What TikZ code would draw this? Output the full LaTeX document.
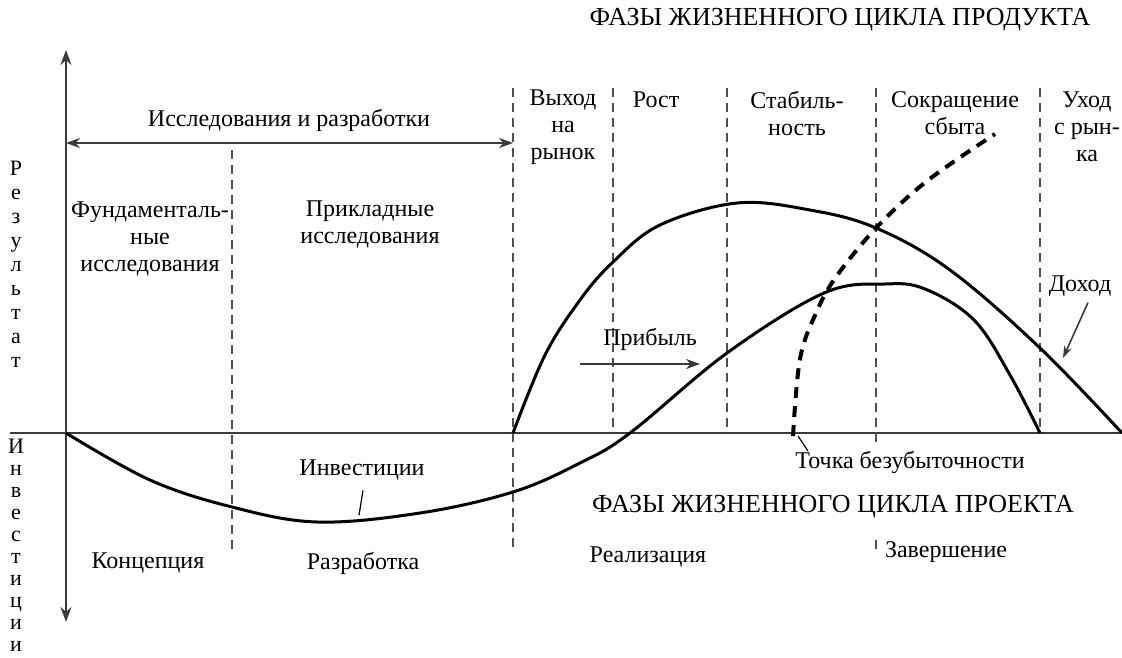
\documentclass[tikz,border=0pt]{standalone}
\usepackage{fontspec}
\setmainfont{Liberation Serif}
\usetikzlibrary{arrows.meta}
\definecolor{AxisGray}{HTML}{3A3A3A}
\definecolor{DashGray}{HTML}{505050}

\begin{document}
\begin{tikzpicture}[x=1pt,y=-1pt,
    lbl/.style={font=\fontsize{24}{27}\selectfont,align=center,inner sep=0pt},
    ttl/.style={font=\fontsize{26}{30}\selectfont,inner sep=0pt},
    vlbl/.style={font=\fontsize{22}{#1}\selectfont,align=center,inner sep=0pt},
    axisline/.style={AxisGray,line width=2pt},
    phaseline/.style={DashGray,line width=1.8pt,dash pattern=on 9pt off 6pt},
    curveline/.style={black,line width=3pt,line join=round},
    evenline/.style={black,line width=4pt,dash pattern=on 11pt off 8pt},
    tickline/.style={black,line width=1.2pt}]
  \useasboundingbox (0,0) rectangle (1122,657);
  % axes
  \coordinate (yTop) at (66,50);
  \coordinate (yBot) at (66,622);
  \coordinate (xLeft) at (10,433);
  \coordinate (xRight) at (1122,433);
  \draw[axisline] (xLeft) -- (xRight);
  \draw[axisline,{Stealth[length=15pt,width=11pt]}-{Stealth[length=15pt,width=11pt]}] (yTop) -- (yBot);
  \node[vlbl=24] (rezult) at (16,264) {Р\\е\\з\\у\\л\\ь\\т\\а\\т};
  \node[vlbl=22] (invest) at (16,545) {И\\н\\в\\е\\с\\т\\и\\ц\\и\\и};
  % phase borders
  \foreach \x/\ya/\yb in {232/150/552,513/88/552,613/88/434,727/88/432,876/88/448,1040/88/434}
    \draw[phaseline] (\x,\ya) -- (\x,\yb);
  \draw[phaseline] (876,540) -- (876,552);
  % research and development
  \coordinate (rdL) at (66,143);
  \coordinate (rdR) at (513,143);
  \draw[AxisGray,line width=2pt,{Stealth[length=14pt,width=10pt]}-{Stealth[length=14pt,width=10pt]}] (rdL) -- (rdR);
  \node[lbl] (rd) at (289,120) {Исследования и разработки};
  \node[lbl] (fund) at (150,239) {Фундаменталь-\\ные\\исследования};
  \node[lbl] (appl) at (370,224) {Прикладные\\исследования};
  % product life cycle
  \node[ttl] (prodTitle) at (840,20) {ФАЗЫ ЖИЗНЕННОГО ЦИКЛА ПРОДУКТА};
  \node[lbl] (entry) at (563,127) {Выход\\на\\рынок};
  \node[lbl] (growth) at (656,100) {Рост};
  \node[lbl] (stab) at (797,114) {Стабиль-\\ность};
  \node[lbl] (decline) at (955,113) {Сокращение\\сбыта};
  \node[lbl] (exit) at (1087,127) {Уход\\с рын-\\ка};
  % curves
  \draw[curveline] plot[smooth,tension=0.6] coordinates {(513,433) (545,355) (580,300) (613,262) (660,225) (737,203) (810,210) (876,228) (950,270) (1040,348) (1122,433)};
  \draw[curveline] plot[smooth,tension=0.6] coordinates {(66,433) (150,480) (232,507) (317,522) (420,513) (513,492) (580,463) (630,433) (727,353) (824,293) (885,284) (925,289) (974,320) (1010,375) (1040,433)};
  \draw[evenline] plot[smooth,tension=0.6] coordinates {(793,436) (800,359) (816,313) (836,277) (877,227) (927,181) (995,134)};
  % curve labels
  \node[lbl] (dokhod) at (1080,286) {Доход};
  \coordinate (dokhodTip) at (1063,358);
  \draw[AxisGray,line width=1.6pt,-{Stealth[length=12pt,width=8pt]}] (dokhod.south) ++(8,6) -- (dokhodTip);
  \node[lbl] (pribyl) at (650,339) {Прибыль};
  \coordinate (pribylA) at (580,364);
  \coordinate (pribylB) at (700,364);
  \draw[AxisGray,line width=2.6pt,-{Stealth[length=14pt,width=10pt]}] (pribylA) -- (pribylB);
  \node[lbl] (investLbl) at (362,470) {Инвестиции};
  \draw[tickline] (investLbl.south) ++(1,10) -- ++(-4,25);
  \node[lbl] (bezub) at (910,462) {Точка безубыточности};
  \coordinate (bezubA) at (798,436);
  \coordinate (bezubB) at (808,451);
  \draw[tickline] (bezubA) -- (bezubB);
  % project life cycle
  \node[ttl] (projTitle) at (833,507) {ФАЗЫ ЖИЗНЕННОГО ЦИКЛА ПРОЕКТА};
  \node[lbl] (concept) at (148,563) {Концепция};
  \node[lbl] (develop) at (363,563) {Разработка};
  \node[lbl] (realize) at (648,557) {Реализация};
  \node[lbl] (finish) at (946,552) {Завершение};
\end{tikzpicture}
\end{document}
